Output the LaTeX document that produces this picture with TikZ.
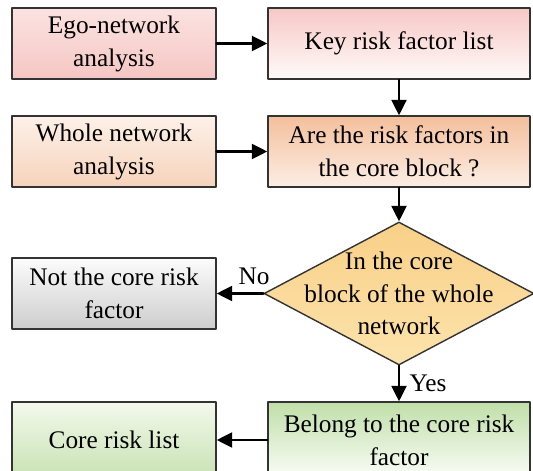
\documentclass[tikz,border=0pt]{standalone}
\usepackage{fontspec}
\setmainfont{Liberation Serif}
\usetikzlibrary{arrows.meta,shapes.geometric}
\definecolor{EdgeGray}{HTML}{333333}
\definecolor{PinkTop}{HTML}{FBE3E1}\definecolor{PinkBot}{HTML}{F5C6C3}
\definecolor{KeyTop}{HTML}{F7C8C6}\definecolor{KeyBot}{HTML}{FFFAF9}
\definecolor{PeachTop}{HTML}{FDF1E8}\definecolor{PeachBot}{HTML}{F6D3BB}
\definecolor{OrangeTop}{HTML}{F4BF9C}\definecolor{OrangeBot}{HTML}{FCEEE4}
\definecolor{GoldTop}{HTML}{F9D088}\definecolor{GoldBot}{HTML}{FCE3AC}
\definecolor{GrayTop}{HTML}{FCFCFC}\definecolor{GrayBot}{HTML}{CDCDCD}
\definecolor{LimeTop}{HTML}{F3F9EC}\definecolor{LimeBot}{HTML}{C8E2B2}
\definecolor{GreenTop}{HTML}{BFDFA8}\definecolor{GreenBot}{HTML}{FBFDF8}

\begin{document}
\begin{tikzpicture}[line cap=round,line join=round,
  box/.style={draw=EdgeGray,line width=0.8pt,align=center,minimum height=1.42cm,
    font=\fontsize{14.4}{18.8}\selectfont,inner sep=2pt},
  leftbox/.style={box,minimum width=4.08cm},
  rightbox/.style={box,minimum width=5.24cm},
  flow/.style={line width=1.4pt,-{Triangle[length=0.31cm,width=0.3cm]}},
  lab/.style={font=\fontsize{14.4}{18.8}\selectfont}]
  \useasboundingbox (0,0) rectangle (10.66,-9.42);
  \clip (0,0) rectangle (10.66,-9.42);
  % boxes
  \node[leftbox,top color=PinkTop,bottom color=PinkBot] (ego) at (2.28,-0.87) {Ego-network\\analysis};
  \node[rightbox,top color=KeyTop,bottom color=KeyBot] (keylist) at (7.98,-0.87) {Key risk factor list};
  \node[leftbox,top color=PeachTop,bottom color=PeachBot] (whole) at (2.28,-3.03) {Whole network\\analysis};
  \node[rightbox,top color=OrangeTop,bottom color=OrangeBot] (incore) at (7.98,-3.03) {Are the risk factors in\\the core block ?};
  \node[diamond,draw=EdgeGray,line width=0.8pt,top color=GoldTop,bottom color=GoldBot,
    aspect=1.89,inner sep=-0.45cm,minimum width=5.4cm,minimum height=2.86cm,
    align=center,font=\fontsize{14.4}{18.6}\selectfont] (decide) at (7.98,-5.87)
    {In the core\\block of the whole\\network};
  \node[leftbox,top color=GrayTop,bottom color=GrayBot] (notcore) at (2.28,-5.87) {Not the core risk\\factor};
  \node[leftbox,minimum height=1.52cm,top color=LimeTop,bottom color=LimeBot] (corelist) at (2.28,-8.8) {Core risk list};
  \node[rightbox,minimum height=1.52cm,top color=GreenTop,bottom color=GreenBot] (belong) at (7.98,-8.8) {Belong to the core risk\\factor};
  % connectors
  \draw[flow] (ego) -- (keylist);
  \draw[flow] (keylist) -- (incore);
  \draw[flow] (whole) -- (incore);
  \draw[flow] (incore) -- (decide);
  \draw[flow] (decide.west) -- node[lab,above=1pt,pos=0.2] {No} (notcore.east);
  \draw[flow] (decide.south) -- node[lab,right=2pt] {Yes} (belong.north);
  \draw[flow] (belong) -- (corelist);
\end{tikzpicture}
\end{document}
